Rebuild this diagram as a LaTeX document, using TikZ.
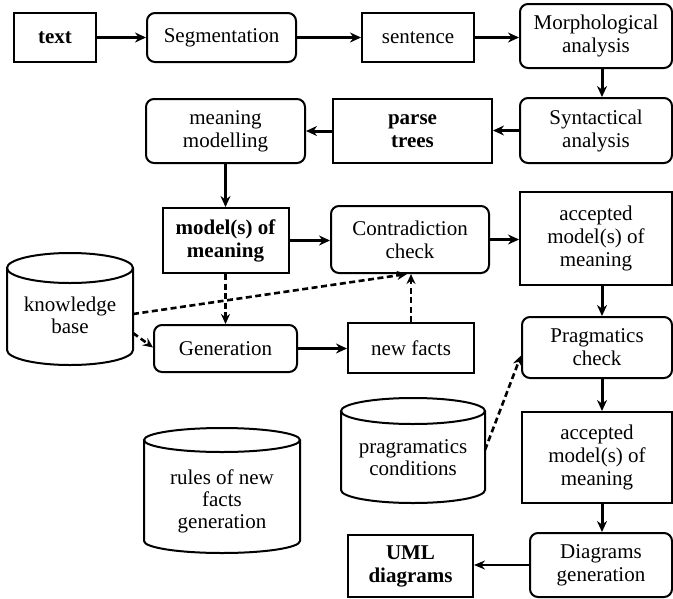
\documentclass[tikz,border=0pt]{standalone}
\usepackage{fontspec}
\setmainfont{Liberation Serif}
\usetikzlibrary{arrows.meta}
% database cylinder: x-left, x-right, y-top, y-bottom, half-height of the ellipse
\newcommand\dbcylinder[5]{%
  \draw[dbline] (#1,#3+#5) -- (#1,#4-#5)
    arc[start angle=180, end angle=0, x radius={(#2-#1)/2}, y radius=#5]
    -- (#2,#3+#5);
  \draw[dbline] ({(#1+#2)/2},#3+#5) ellipse[x radius={(#2-#1)/2}, y radius=#5];
}
\begin{document}
\begin{tikzpicture}[x=1pt, y=-1pt,
  box/.style={draw, line width=2pt, align=center, inner sep=0pt,
    font=\fontsize{21}{23}\selectfont},
  sqbox/.style={box},
  rbox/.style={box, rounded corners=8pt},
  strong/.style={font=\fontsize{21}{23}\selectfont\bfseries},
  flow/.style={line width=3pt, -{Stealth[length=11pt, width=10pt]}},
  thinflow/.style={line width=1.6pt, -{Stealth[length=11pt, width=9pt]}},
  hint/.style={line width=2.6pt, dash pattern=on 6pt off 3.5pt,
    -{Stealth[length=10pt, width=9pt]}},
  dbline/.style={line width=2pt},
  dbtext/.style={align=center, inner sep=0pt, font=\fontsize{21}{22}\selectfont}
]
\useasboundingbox (0,0) rectangle (673,598);

% processing chain
\node[sqbox, strong, minimum width=82pt,  minimum height=49pt] (txt)   at (55,37.5)   {text};
\node[rbox,  minimum width=149pt, minimum height=49pt] (seg)   at (221.5,37.5) {Segmentation};
\node[sqbox, minimum width=112pt, minimum height=49pt] (sent)  at (418,37.5)   {sentence};
\node[rbox,  minimum width=152pt, minimum height=64pt] (morph) at (596,36)     {Morphological\\analysis};
\node[rbox,  minimum width=152pt, minimum height=65pt] (synt)  at (596,130.5)  {Syntactical\\analysis};
\node[sqbox, strong, minimum width=159pt, minimum height=64pt] (parse) at (412.5,131) {parse\\trees};
\node[rbox,  minimum width=159pt, minimum height=64pt] (mm)    at (225.5,131)  {meaning\\modelling};
\node[sqbox, strong, minimum width=126pt, minimum height=65pt] (model) at (225.5,240.5) {model(s) of\\meaning};
\node[rbox,  minimum width=158pt, minimum height=67pt] (contr) at (410,239.5)  {Contradiction\\check};
\node[sqbox, minimum width=152pt, minimum height=93pt] (acc1)  at (596,238.5)  {accepted\\model(s) of\\meaning};
\node[rbox,  minimum width=143pt, minimum height=47pt] (gen)   at (225.5,348.5) {Generation};
\node[sqbox, minimum width=126pt, minimum height=50pt] (newf)  at (411,348)    {new facts};
\node[rbox,  minimum width=150pt, minimum height=61pt] (prag)  at (597,347.5)  {Pragmatics\\check};
\node[sqbox, minimum width=150pt, minimum height=91pt] (acc2)  at (597,457.5)  {accepted\\model(s) of\\meaning};
\node[rbox,  minimum width=142pt, minimum height=64pt] (diag)  at (601,565)    {Diagrams\\generation};
\node[sqbox, strong, minimum width=125pt, minimum height=62pt] (uml) at (410.5,566) {UML\\diagrams};

% data stores
\dbcylinder{7}{133}{253}{365}{15}
\node[dbtext] (kb) at (70,315) {knowledge\\base};
\dbcylinder{341}{485}{398}{503}{13}
\node[dbtext] (prc) at (413,458) {pragramatics\\conditions};
\dbcylinder{144}{300}{428}{553}{12}
\node[dbtext] (rules) at (222,501) {rules of new\\facts\\generation};

\coordinate (kbA) at (133,314);
\coordinate (kbB) at (133,333);
\coordinate (prcR) at (485,450);

% main flow
\draw[flow] (txt.east) -- (seg.west);
\draw[flow] (seg.east) -- (sent.west);
\draw[flow] (sent.east) -- (sent.east -| morph.west);
\draw[flow] ([xshift=6pt]morph.south) -- ([xshift=6pt]synt.north);
\draw[flow] (synt.west) -- (synt.west -| parse.east);
\draw[flow] (parse.west) -- (parse.west -| mm.east);
\draw[flow] (mm.south) -- (mm.south |- model.north);
\draw[flow] (model.east) -- (model.east -| contr.west);
\draw[flow] (contr.east) -- (contr.east -| acc1.west);
\draw[flow] ([xshift=6pt]acc1.south) -- ([xshift=5pt]prag.north);
\draw[flow] ([xshift=5pt]prag.south) -- ([xshift=5pt]acc2.north);
\draw[flow] ([xshift=5pt]acc2.south) -- ([xshift=1pt]diag.north);
\draw[flow] (gen.east) -- (gen.east -| newf.west);
\draw[thinflow] (diag.west) -- (diag.west -| uml.east);

% auxiliary (dashed) flow
\draw[hint] (model.south) -- (model.south |- gen.north);
\draw[hint] (kbA) -- ([xshift=-3pt]contr.south);
\draw[hint] (newf.north) -- (newf.north |- contr.south);
\draw[hint] (kbB) -- ([yshift=1pt]gen.west);
\draw[hint] (prcR) -- ([yshift=-8pt]prag.west);
\end{tikzpicture}
\end{document}
